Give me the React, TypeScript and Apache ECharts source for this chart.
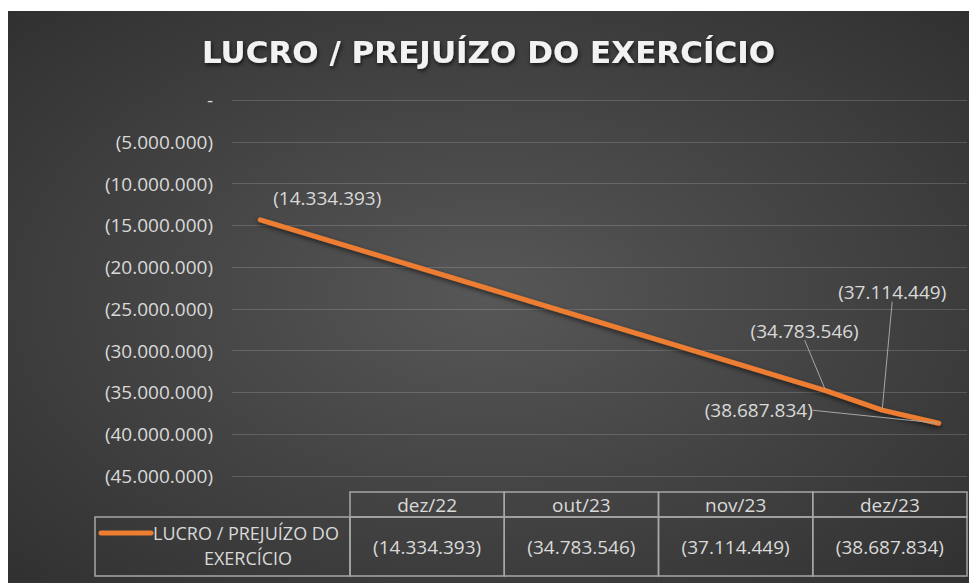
import React, { useEffect, useRef } from 'react';
import * as echarts from 'echarts';

// ---------- data ----------
const TITLE = 'LUCRO / PREJUÍZO DO EXERCÍCIO';
const SERIES_NAME = 'LUCRO / PREJUÍZO DO EXERCÍCIO';
const LEGEND_LINES = ['LUCRO / PREJUÍZO DO', 'EXERCÍCIO'];
const categories = ['dez/22', 'out/23', 'nov/23', 'dez/23'];
const values = [-14334393, -34783546, -37114449, -38687834];
const Y_MIN = -45000000;
const Y_MAX = 0;
const Y_STEP = 5000000;
const MONTHS = ['jan', 'fev', 'mar', 'abr', 'mai', 'jun', 'jul', 'ago', 'set', 'out', 'nov', 'dez'];

// ---------- layout / style ----------
const W = 961;
const H = 572;
const ORANGE = '#ED7D31';
const TEXT = '#D9D9D9';
const BORDER = '#A6A6A6';
const FONT = '"Open Sans", sans-serif';
const labelOffsets = [
  [67, -22],
  [-21, -60],
  [10, -118],
  [-180, -13],
];
const labelLeaders = [false, true, true, true];
const TABLE = { left: 87, colStart: 342, right: 959, headerTop: 481, headerH: 25, rowH: 59 };

const group3 = (n: number) => Math.round(n).toString().replace(/\B(?=(\d{3})+(?!\d))/g, '.');
const fmt = (v: number) => (v === 0 ? '-' : v < 0 ? `(${group3(-v)})` : group3(v));

const monthIndex = (lab: string) => {
  const [m, y] = lab.split('/');
  return (2000 + Number(y)) * 12 + MONTHS.indexOf(m);
};
const base = monthIndex(categories[0]);
const xs = categories.map((c) => monthIndex(c) - base);
const xMax = xs[xs.length - 1];

function buildTable() {
  const els: any[] = [];
  const colW = (TABLE.right - TABLE.colStart) / categories.length;
  const rowTop = TABLE.headerTop + TABLE.headerH;
  const cellStyle = { fill: 'none', stroke: BORDER, lineWidth: 1.5 };
  categories.forEach((c, i) => {
    const x = TABLE.colStart + i * colW;
    els.push({ type: 'rect', z: 10, silent: true, shape: { x, y: TABLE.headerTop, width: colW, height: TABLE.headerH }, style: cellStyle });
    els.push({ type: 'rect', z: 10, silent: true, shape: { x, y: rowTop, width: colW, height: TABLE.rowH }, style: cellStyle });
    els.push({
      type: 'text', z: 11, silent: true, x: x + colW / 2, y: TABLE.headerTop + TABLE.headerH / 2,
      style: { text: c, fill: TEXT, font: `19px ${FONT}`, align: 'center', verticalAlign: 'middle' },
    });
    els.push({
      type: 'text', z: 11, silent: true, x: x + colW / 2, y: rowTop + TABLE.rowH / 2,
      style: { text: fmt(values[i]), fill: TEXT, font: `19px ${FONT}`, align: 'center', verticalAlign: 'middle' },
    });
  });
  els.push({ type: 'rect', z: 10, silent: true, shape: { x: TABLE.left, y: rowTop, width: TABLE.colStart - TABLE.left, height: TABLE.rowH }, style: cellStyle });
  els.push({
    type: 'line', z: 11, silent: true,
    shape: { x1: 93, y1: rowTop + 16, x2: 143, y2: rowTop + 16 },
    style: { stroke: ORANGE, lineWidth: 5, lineCap: 'round' },
  });
  els.push({
    type: 'text', z: 11, silent: true, x: 145, y: rowTop + 16,
    style: { text: LEGEND_LINES[0], fill: TEXT, font: `18px ${FONT}`, align: 'left', verticalAlign: 'middle' },
  });
  els.push({
    type: 'text', z: 11, silent: true, x: 240, y: rowTop + 41,
    style: { text: LEGEND_LINES[1], fill: TEXT, font: `18px ${FONT}`, align: 'center', verticalAlign: 'middle' },
  });
  return els;
}

export default function App() {
  const ref = useRef<HTMLDivElement>(null);
  useEffect(() => {
    if (!ref.current) return;
    const chart = echarts.init(ref.current, null, { renderer: 'svg' });
    const option: any = {
      animation: false,
      title: {
        text: TITLE,
        left: 'center',
        top: 25,
        padding: 0,
        textStyle: {
          fontFamily: '"DejaVu Sans", sans-serif',
          fontWeight: 'bold',
          fontSize: 31,
          color: '#F2F2F2',
          textShadowColor: 'rgba(0,0,0,0.7)',
          textShadowBlur: 4,
          textShadowOffsetX: 1,
          textShadowOffsetY: 2,
        },
      },
      grid: { left: 224, right: 2, top: 89, bottom: 107, containLabel: false, outerBoundsMode: 'none' },
      xAxis: { type: 'value', min: -0.5, max: xMax + 0.5, show: false },
      yAxis: {
        type: 'value',
        min: Y_MIN,
        max: Y_MAX,
        interval: Y_STEP,
        axisLine: { show: false },
        axisTick: { show: false },
        axisLabel: { color: TEXT, fontFamily: FONT, fontSize: 19, margin: 19, formatter: (v: number) => fmt(v) },
        splitLine: { lineStyle: { color: 'rgba(255,255,255,0.16)', width: 1 } },
      },
      series: [
        {
          name: SERIES_NAME,
          type: 'line',
          data: xs.map((x, i) => ({
            value: [x, values[i]],
            labelLine: { show: labelLeaders[i] },
          })),
          symbol: 'circle',
          symbolSize: 2,
          showSymbol: true,
          itemStyle: { color: ORANGE },
          lineStyle: {
            color: ORANGE,
            width: 5,
            cap: 'round',
            shadowColor: 'rgba(0,0,0,0.6)',
            shadowBlur: 5,
            shadowOffsetY: 2,
          },
          label: {
            show: true,
            position: 'inside',
            align: 'center',
            verticalAlign: 'middle',
            color: TEXT,
            fontFamily: FONT,
            fontSize: 19,
            formatter: (p: any) => fmt(p.value[1]),
          },
          labelLayout: (p: any) => ({ dx: labelOffsets[p.dataIndex][0], dy: labelOffsets[p.dataIndex][1] }),
          labelLine: { show: true, lineStyle: { color: BORDER, width: 1 } },
          z: 5,
        },
      ],
      graphic: [
        {
          type: 'rect',
          z: -100,
          silent: true,
          shape: { x: 0, y: 0, width: W, height: H },
          style: {
            fill: new echarts.graphic.RadialGradient(0.5, 0.5, 0.9, [
              { offset: 0, color: '#575757' },
              { offset: 1, color: '#262626' },
            ]),
          },
        },
        ...buildTable(),
      ],
    };
    chart.setOption(option);
    return () => chart.dispose();
  }, []);
  return <div ref={ref} style={{ position: 'absolute', left: 8, top: 11, width: W, height: H }} />;
}
